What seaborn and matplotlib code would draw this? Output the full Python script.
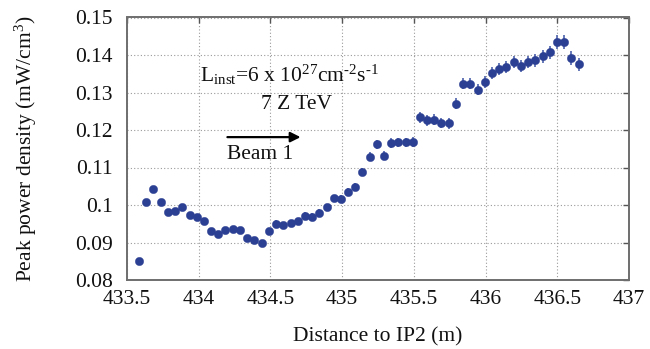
import matplotlib
matplotlib.use("Agg")
import matplotlib.pyplot as plt
import seaborn as sns
import pandas as pd

# Measured peak power density along the beam line
distance_m = [433.587, 433.634, 433.684, 433.736, 433.786, 433.835, 433.885, 433.937,
              433.987, 434.036, 434.086, 434.136, 434.185, 434.238, 434.287, 434.337,
              434.386, 434.439, 434.488, 434.538, 434.587, 434.640, 434.689, 434.739,
              434.789, 434.838, 434.891, 434.940, 434.990, 435.039, 435.092, 435.141,
              435.191, 435.240, 435.293, 435.343, 435.392, 435.442, 435.491, 435.544,
              435.593, 435.643, 435.692, 435.745, 435.794, 435.844, 435.894, 435.946,
              435.996, 436.045, 436.095, 436.144, 436.197, 436.246, 436.296, 436.345,
              436.397, 436.447, 436.497, 436.547, 436.599, 436.649]
power_density = [0.0851, 0.1008, 0.1042, 0.1008, 0.0982, 0.0985, 0.0994, 0.0974,
                 0.0968, 0.0958, 0.0931, 0.0922, 0.0933, 0.0935, 0.0934, 0.0911,
                 0.0907, 0.0899, 0.0931, 0.0950, 0.0947, 0.0952, 0.0957, 0.0972,
                 0.0968, 0.0979, 0.0994, 0.1018, 0.1016, 0.1034, 0.1049, 0.1088,
                 0.1129, 0.1162, 0.1131, 0.1165, 0.1167, 0.1167, 0.1169, 0.1234,
                 0.1226, 0.1228, 0.1219, 0.1218, 0.1270, 0.1324, 0.1324, 0.1308,
                 0.1328, 0.1352, 0.1363, 0.1368, 0.1382, 0.1370, 0.1382, 0.1386,
                 0.1397, 0.1407, 0.1435, 0.1435, 0.1392, 0.1375]
power_error = [0.0008, 0.0008, 0.0008, 0.0008, 0.0008, 0.0008, 0.0008, 0.0008,
               0.0008, 0.0008, 0.0008, 0.0008, 0.0008, 0.0008, 0.0008, 0.0008,
               0.0008, 0.0008, 0.0009, 0.0009, 0.0009, 0.0009, 0.0009, 0.0010,
               0.0010, 0.0010, 0.0010, 0.0010, 0.0010, 0.0011, 0.0011, 0.0011,
               0.0012, 0.0012, 0.0012, 0.0013, 0.0013, 0.0013, 0.0013, 0.0014,
               0.0014, 0.0014, 0.0014, 0.0014, 0.0015, 0.0015, 0.0015, 0.0015,
               0.0015, 0.0016, 0.0016, 0.0016, 0.0016, 0.0016, 0.0016, 0.0017,
               0.0017, 0.0017, 0.0018, 0.0018, 0.0018, 0.0018]

x_ticks = [433.5, 434, 434.5, 435, 435.5, 436, 436.5, 437]
x_tick_labels = ["433.5", "434", "434.5", "435", "435.5", "436", "436.5", "437"]
y_ticks = [0.08, 0.09, 0.10, 0.11, 0.12, 0.13, 0.14, 0.15]
y_tick_labels = ["0.08", "0.09", "0.1", "0.11", "0.12", "0.13", "0.14", "0.15"]

df = pd.DataFrame({"distance": distance_m, "density": power_density, "err": power_error})

sns.set_theme(style="white")
plt.rcParams["font.family"] = ["Liberation Serif", "DejaVu Serif"]
plt.rcParams["mathtext.fontset"] = "custom"
plt.rcParams["mathtext.rm"] = "Liberation Serif"
plt.rcParams["mathtext.it"] = "Liberation Serif:italic"

FS = 15.5
TXT = "#111111"

fig = plt.figure(figsize=(6.5, 3.49), dpi=100)
ax = fig.add_axes([127 / 650, 1 - 280 / 349, 502 / 650, 262.5 / 349])

point_color = "#2b3f93"
ax.errorbar(df["distance"], df["density"], yerr=df["err"], fmt="none",
            ecolor="#5b6db2", elinewidth=1.3, capsize=0, zorder=2)
sns.scatterplot(data=df, x="distance", y="density", ax=ax, color=point_color,
                s=36, edgecolor=point_color, linewidth=0.3, zorder=3, legend=False)

ax.set_xlim(433.5, 437)
ax.set_ylim(0.08, 0.15)
ax.set_xticks(x_ticks)
ax.set_xticklabels(x_tick_labels)
ax.set_yticks(y_ticks)
ax.set_yticklabels(y_tick_labels)
ax.tick_params(direction="in", length=4, width=1, color="#555555",
               top=True, right=True, labelsize=FS, labelcolor=TXT)
ax.tick_params(axis="y", pad=10)
ax.tick_params(axis="x", pad=7)
ax.grid(True, linestyle=(0, (1, 2)), color="#9a9a9a", linewidth=0.8)
ax.set_axisbelow(True)
for sp in ax.spines.values():
    sp.set_color("#6e6e6e")
    sp.set_linewidth(1.4)

ax.set_xlabel("Distance to IP2 (m)", fontsize=FS, color=TXT, labelpad=13)
ax.set_ylabel(r"Peak power density (mW/cm$^{3}$)", fontsize=FS, color=TXT, labelpad=26)

ax.text(434.01, 0.1347,
        "L$_{\\rm inst}$=6 x 10$^{27}$cm$^{\u2010 2}$s$^{\u2010 1}$",
        fontsize=FS, ha="left", va="center", color=TXT)
ax.text(434.68, 0.1269, "7 Z TeV", fontsize=FS, ha="center", va="center", color=TXT)
ax.annotate("", xy=(434.71, 0.1181), xytext=(434.20, 0.1181),
            arrowprops=dict(arrowstyle="-|>", color="black", lw=1.6,
                            mutation_scale=15, shrinkA=0, shrinkB=0))
ax.text(434.20, 0.1134, "Beam 1", fontsize=FS, ha="left", va="center", color=TXT)

fig.savefig("out.png", dpi=100)
